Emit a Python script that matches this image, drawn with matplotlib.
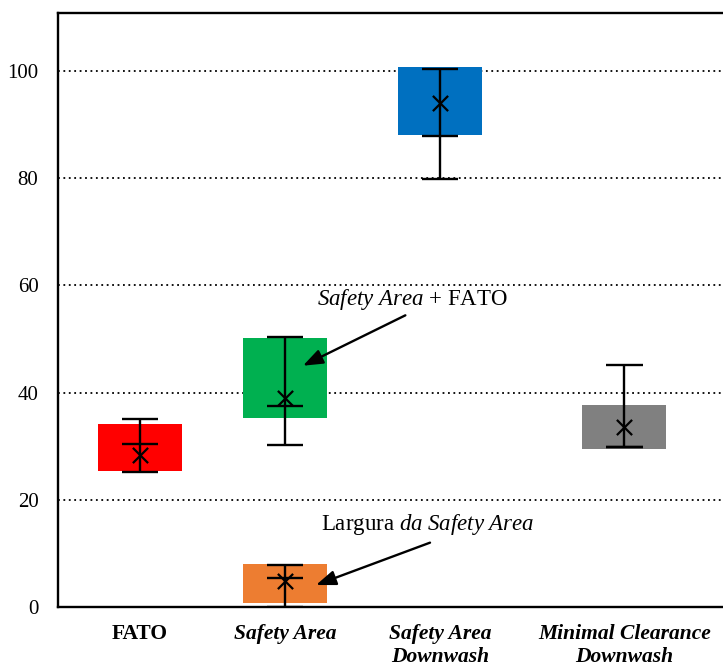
import matplotlib.pyplot as plt
import numpy as np

plt.rcParams["font.family"] = "Liberation Serif"
plt.rcParams["mathtext.fontset"] = "custom"
plt.rcParams["mathtext.rm"] = "Liberation Serif"
plt.rcParams["mathtext.it"] = "Liberation Serif:italic"

# Dados (caixa: Q1-Q3, bigodes: min-max, mediana, media)
categorias = ["FATO", "Safety Area", "Safety Area\nDownwash", "Minimal Clearance\nDownwash"]
pos_cat = [1.0, 2.0, 3.07, 4.34]

series = ["FATO", "Safety Area + FATO", "Largura da Safety Area", "Safety Area Downwash", "Minimal Clearance Downwash"]
pos = [1.0, 2.0, 2.0, 3.07, 4.34]
q1 = [25.3, 35.2, 0.8, 88.1, 29.5]
q3 = [34.1, 50.1, 8.0, 100.7, 37.6]
mediana = [30.4, 37.4, 5.5, 87.9, 29.9]
media = [28.4, 38.9, 4.9, 94.0, 33.5]
w_min = [25.1, 30.3, 0.0, 79.9, 29.9]
w_max = [35.1, 50.3, 7.8, 100.4, 45.1]
cores = ["#FF0000", "#00B050", "#ED7D31", "#0070C0", "#808080"]

fig = plt.figure(figsize=(7.23, 6.66), dpi=100)
ax = fig.add_axes([0.080, 0.0886, 0.92, 0.892])

largura = 0.58
cap = 0.25
q1 = np.array(q1)
q3 = np.array(q3)
ax.bar(pos, q3 - q1, largura, bottom=q1, color=cores, zorder=2)
ax.vlines(pos, w_min, w_max, color="black", lw=1.7, zorder=3)
for p, a, b, m in zip(pos, w_min, w_max, mediana):
    ax.hlines([a, b, m], p - cap / 2, p + cap / 2, color="black", lw=1.7, zorder=3)
ax.scatter(pos, media, marker="x", s=120, color="black", linewidths=1.6, zorder=4)

ax.set_ylim(0, 110.8)
ax.set_xlim(0.434, 5.02)
ax.set_yticks(np.arange(0, 101, 20))
ax.yaxis.grid(True, linestyle=(0, (1, 2)), color="black", lw=1.3)
ax.set_axisbelow(True)
ax.tick_params(axis="y", length=0, labelsize=15, pad=14)
ax.tick_params(axis="x", length=0, pad=12)
ax.set_xticks(pos_cat)
ax.set_xticklabels(categorias, fontsize=15.5, fontweight="bold", linespacing=1.2, va="top")
for i, t in enumerate(ax.get_xticklabels()):
    if i > 0:
        t.set_fontstyle("italic")
for lado in ["left", "bottom", "top"]:
    ax.spines[lado].set_linewidth(1.7)
ax.spines["right"].set_visible(False)

seta = dict(arrowstyle="-|>,head_length=1.2,head_width=0.45", color="black", lw=1.7, shrinkA=0, shrinkB=0)
ax.annotate("", xy=(2.124, 45.0), xytext=(2.83, 54.4), arrowprops=seta)
ax.text(2.876, 57.3, r"$\mathit{Safety\ Area}$ + FATO", fontsize=16.5, ha="center", va="center")
ax.annotate("", xy=(2.214, 4.1), xytext=(3.0, 12.0), arrowprops=seta)
ax.text(2.986, 15.4, r"Largura $\mathit{da\ Safety\ Area}$", fontsize=16.5, ha="center", va="center")

plt.savefig("out.png", dpi=100)
plt.close()
